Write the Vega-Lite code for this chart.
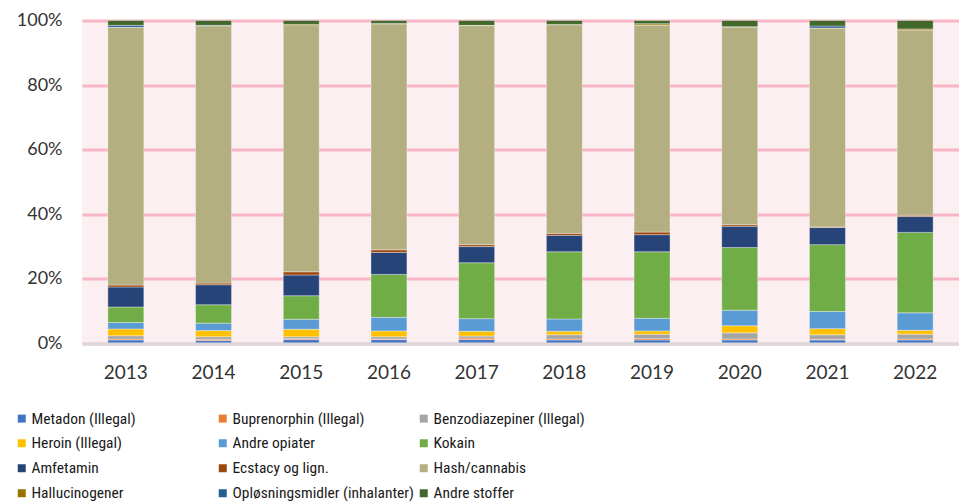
{
  "$schema": "https://vega.github.io/schema/vega-lite/v6.json",
  "width": 877,
  "height": 323,
  "autosize": {"type": "none"},
  "padding": {"left": 82, "top": 20.5, "right": 0, "bottom": 160.5},
  "background": "#ffffff",
  "config": {
    "view": {"fill": "#FCEFF2", "stroke": null},
    "font": "Lato"
  },
  "datasets": {
    "shares": [
      {"year": "2013", "type": "Metadon (Illegal)", "pct": 1.1}, {"year": "2013", "type": "Buprenorphin (Illegal)", "pct": 0.3}, {"year": "2013", "type": "Benzodiazepiner (Illegal)", "pct": 1.0}, {"year": "2013", "type": "Heroin (Illegal)", "pct": 2.1}, {"year": "2013", "type": "Andre opiater", "pct": 2.0}, {"year": "2013", "type": "Kokain", "pct": 4.8}, {"year": "2013", "type": "Amfetamin", "pct": 6.2}, {"year": "2013", "type": "Ecstacy og lign.", "pct": 0.6}, {"year": "2013", "type": "Hash/cannabis", "pct": 79.8}, {"year": "2013", "type": "Hallucinogener", "pct": 0.0}, {"year": "2013", "type": "Opløsningsmidler (inhalanter)", "pct": 0.6}, {"year": "2013", "type": "Andre stoffer", "pct": 1.5},
      {"year": "2014", "type": "Metadon (Illegal)", "pct": 0.9}, {"year": "2014", "type": "Buprenorphin (Illegal)", "pct": 0.4}, {"year": "2014", "type": "Benzodiazepiner (Illegal)", "pct": 0.8}, {"year": "2014", "type": "Heroin (Illegal)", "pct": 1.9}, {"year": "2014", "type": "Andre opiater", "pct": 2.3}, {"year": "2014", "type": "Kokain", "pct": 5.7}, {"year": "2014", "type": "Amfetamin", "pct": 6.2}, {"year": "2014", "type": "Ecstacy og lign.", "pct": 0.5}, {"year": "2014", "type": "Hash/cannabis", "pct": 79.7}, {"year": "2014", "type": "Hallucinogener", "pct": 0.0}, {"year": "2014", "type": "Opløsningsmidler (inhalanter)", "pct": 0.1}, {"year": "2014", "type": "Andre stoffer", "pct": 1.5},
      {"year": "2015", "type": "Metadon (Illegal)", "pct": 1.2}, {"year": "2015", "type": "Buprenorphin (Illegal)", "pct": 0.3}, {"year": "2015", "type": "Benzodiazepiner (Illegal)", "pct": 0.6}, {"year": "2015", "type": "Heroin (Illegal)", "pct": 2.3}, {"year": "2015", "type": "Andre opiater", "pct": 3.1}, {"year": "2015", "type": "Kokain", "pct": 7.3}, {"year": "2015", "type": "Amfetamin", "pct": 6.4}, {"year": "2015", "type": "Ecstacy og lign.", "pct": 1.0}, {"year": "2015", "type": "Hash/cannabis", "pct": 76.2}, {"year": "2015", "type": "Hallucinogener", "pct": 0.4}, {"year": "2015", "type": "Opløsningsmidler (inhalanter)", "pct": 0.0}, {"year": "2015", "type": "Andre stoffer", "pct": 1.2},
      {"year": "2016", "type": "Metadon (Illegal)", "pct": 1.2}, {"year": "2016", "type": "Buprenorphin (Illegal)", "pct": 0.2}, {"year": "2016", "type": "Benzodiazepiner (Illegal)", "pct": 0.7}, {"year": "2016", "type": "Heroin (Illegal)", "pct": 1.8}, {"year": "2016", "type": "Andre opiater", "pct": 4.2}, {"year": "2016", "type": "Kokain", "pct": 13.3}, {"year": "2016", "type": "Amfetamin", "pct": 6.8}, {"year": "2016", "type": "Ecstacy og lign.", "pct": 0.8}, {"year": "2016", "type": "Hash/cannabis", "pct": 70.0}, {"year": "2016", "type": "Hallucinogener", "pct": 0.0}, {"year": "2016", "type": "Opløsningsmidler (inhalanter)", "pct": 0.1}, {"year": "2016", "type": "Andre stoffer", "pct": 0.9},
      {"year": "2017", "type": "Metadon (Illegal)", "pct": 1.2}, {"year": "2017", "type": "Buprenorphin (Illegal)", "pct": 0.5}, {"year": "2017", "type": "Benzodiazepiner (Illegal)", "pct": 0.6}, {"year": "2017", "type": "Heroin (Illegal)", "pct": 1.5}, {"year": "2017", "type": "Andre opiater", "pct": 3.9}, {"year": "2017", "type": "Kokain", "pct": 17.3}, {"year": "2017", "type": "Amfetamin", "pct": 5.0}, {"year": "2017", "type": "Ecstacy og lign.", "pct": 0.6}, {"year": "2017", "type": "Hash/cannabis", "pct": 67.8}, {"year": "2017", "type": "Hallucinogener", "pct": 0.1}, {"year": "2017", "type": "Opløsningsmidler (inhalanter)", "pct": 0.0}, {"year": "2017", "type": "Andre stoffer", "pct": 1.5},
      {"year": "2018", "type": "Metadon (Illegal)", "pct": 1.1}, {"year": "2018", "type": "Buprenorphin (Illegal)", "pct": 0.3}, {"year": "2018", "type": "Benzodiazepiner (Illegal)", "pct": 1.3}, {"year": "2018", "type": "Heroin (Illegal)", "pct": 1.1}, {"year": "2018", "type": "Andre opiater", "pct": 3.8}, {"year": "2018", "type": "Kokain", "pct": 20.8}, {"year": "2018", "type": "Amfetamin", "pct": 5.1}, {"year": "2018", "type": "Ecstacy og lign.", "pct": 0.6}, {"year": "2018", "type": "Hash/cannabis", "pct": 64.6}, {"year": "2018", "type": "Hallucinogener", "pct": 0.1}, {"year": "2018", "type": "Opløsningsmidler (inhalanter)", "pct": 0.0}, {"year": "2018", "type": "Andre stoffer", "pct": 1.2},
      {"year": "2019", "type": "Metadon (Illegal)", "pct": 1.1}, {"year": "2019", "type": "Buprenorphin (Illegal)", "pct": 0.4}, {"year": "2019", "type": "Benzodiazepiner (Illegal)", "pct": 1.4}, {"year": "2019", "type": "Heroin (Illegal)", "pct": 1.0}, {"year": "2019", "type": "Andre opiater", "pct": 3.9}, {"year": "2019", "type": "Kokain", "pct": 20.6}, {"year": "2019", "type": "Amfetamin", "pct": 5.3}, {"year": "2019", "type": "Ecstacy og lign.", "pct": 0.8}, {"year": "2019", "type": "Hash/cannabis", "pct": 64.0}, {"year": "2019", "type": "Hallucinogener", "pct": 0.5}, {"year": "2019", "type": "Opløsningsmidler (inhalanter)", "pct": 0.0}, {"year": "2019", "type": "Andre stoffer", "pct": 1.0},
      {"year": "2020", "type": "Metadon (Illegal)", "pct": 1.1}, {"year": "2020", "type": "Buprenorphin (Illegal)", "pct": 0.3}, {"year": "2020", "type": "Benzodiazepiner (Illegal)", "pct": 1.9}, {"year": "2020", "type": "Heroin (Illegal)", "pct": 2.2}, {"year": "2020", "type": "Andre opiater", "pct": 4.8}, {"year": "2020", "type": "Kokain", "pct": 19.4}, {"year": "2020", "type": "Amfetamin", "pct": 6.6}, {"year": "2020", "type": "Ecstacy og lign.", "pct": 0.5}, {"year": "2020", "type": "Hash/cannabis", "pct": 61.2}, {"year": "2020", "type": "Hallucinogener", "pct": 0.1}, {"year": "2020", "type": "Opløsningsmidler (inhalanter)", "pct": 0.0}, {"year": "2020", "type": "Andre stoffer", "pct": 1.9},
      {"year": "2021", "type": "Metadon (Illegal)", "pct": 1.1}, {"year": "2021", "type": "Buprenorphin (Illegal)", "pct": 0.2}, {"year": "2021", "type": "Benzodiazepiner (Illegal)", "pct": 1.4}, {"year": "2021", "type": "Heroin (Illegal)", "pct": 1.9}, {"year": "2021", "type": "Andre opiater", "pct": 5.3}, {"year": "2021", "type": "Kokain", "pct": 20.7}, {"year": "2021", "type": "Amfetamin", "pct": 5.3}, {"year": "2021", "type": "Ecstacy og lign.", "pct": 0.2}, {"year": "2021", "type": "Hash/cannabis", "pct": 61.6}, {"year": "2021", "type": "Hallucinogener", "pct": 0.0}, {"year": "2021", "type": "Opløsningsmidler (inhalanter)", "pct": 0.6}, {"year": "2021", "type": "Andre stoffer", "pct": 1.7},
      {"year": "2022", "type": "Metadon (Illegal)", "pct": 1.1}, {"year": "2022", "type": "Buprenorphin (Illegal)", "pct": 0.3}, {"year": "2022", "type": "Benzodiazepiner (Illegal)", "pct": 1.5}, {"year": "2022", "type": "Heroin (Illegal)", "pct": 1.2}, {"year": "2022", "type": "Andre opiater", "pct": 5.4}, {"year": "2022", "type": "Kokain", "pct": 24.9}, {"year": "2022", "type": "Amfetamin", "pct": 4.9}, {"year": "2022", "type": "Ecstacy og lign.", "pct": 0.4}, {"year": "2022", "type": "Hash/cannabis", "pct": 57.2}, {"year": "2022", "type": "Hallucinogener", "pct": 0.5}, {"year": "2022", "type": "Opløsningsmidler (inhalanter)", "pct": 0.0}, {"year": "2022", "type": "Andre stoffer", "pct": 2.6}
    ]
  },
  "data": {"name": "shares"},
  "transform": [
    {"calculate": "indexof(['Metadon (Illegal)', 'Buprenorphin (Illegal)', 'Benzodiazepiner (Illegal)', 'Heroin (Illegal)', 'Andre opiater', 'Kokain', 'Amfetamin', 'Ecstacy og lign.', 'Hash/cannabis', 'Hallucinogener', 'Opløsningsmidler (inhalanter)', 'Andre stoffer'], datum.type)", "as": "stackIndex"}
  ],
  "mark": {"type": "bar", "stroke": "#ffffff", "strokeOpacity": 0.35, "strokeWidth": 1},
  "encoding": {
    "x": {
      "field": "year", "type": "ordinal",
      "scale": {"paddingInner": 0.59, "paddingOuter": 0.295},
      "axis": {"title": null, "labelAngle": 0, "labelFontSize": 19, "labelColor": "#333333", "labelPadding": 20, "ticks": false, "domainColor": "#D9D9D9", "domainWidth": 3, "zindex": 1}
    },
    "y": {
      "field": "pct", "type": "quantitative", "stack": "zero",
      "scale": {"domain": [0, 100], "nice": false},
      "axis": {"title": null, "values": [0, 20, 40, 60, 80, 100], "labelExpr": "datum.value + '%'", "labelFontSize": 18, "labelColor": "#333333", "labelPadding": 20, "ticks": false, "domain": false, "gridColor": "#F7B5C6", "gridWidth": 3}
    },
    "order": {"field": "stackIndex", "type": "quantitative", "sort": "ascending"},
    "color": {
      "field": "type", "type": "nominal",
      "scale": {
        "domain": ["Metadon (Illegal)", "Buprenorphin (Illegal)", "Benzodiazepiner (Illegal)", "Heroin (Illegal)", "Andre opiater", "Kokain", "Amfetamin", "Ecstacy og lign.", "Hash/cannabis", "Hallucinogener", "Opløsningsmidler (inhalanter)", "Andre stoffer"],
        "range": ["#4472C4", "#ED7D31", "#A5A5A5", "#FFC000", "#5B9BD5", "#70AD47", "#264478", "#9E480E", "#B3AF80", "#997300", "#255E91", "#43682B"]
      },
      "legend": {
        "title": null, "orient": "none", "legendX": -68, "legendY": 390,
        "direction": "horizontal", "columns": 3, "gridAlign": "all", "columnPadding": 2, "rowPadding": 8,
        "symbolType": "square", "symbolSize": 64, "symbolStrokeWidth": 0, "symbolOpacity": 1,
        "labelFont": "Roboto Condensed, DejaVu Sans Condensed, Lato", "labelFontSize": 15.5, "labelColor": "#1a1a1a", "labelOffset": 2, "labelLimit": 300
      }
    }
  }
}
